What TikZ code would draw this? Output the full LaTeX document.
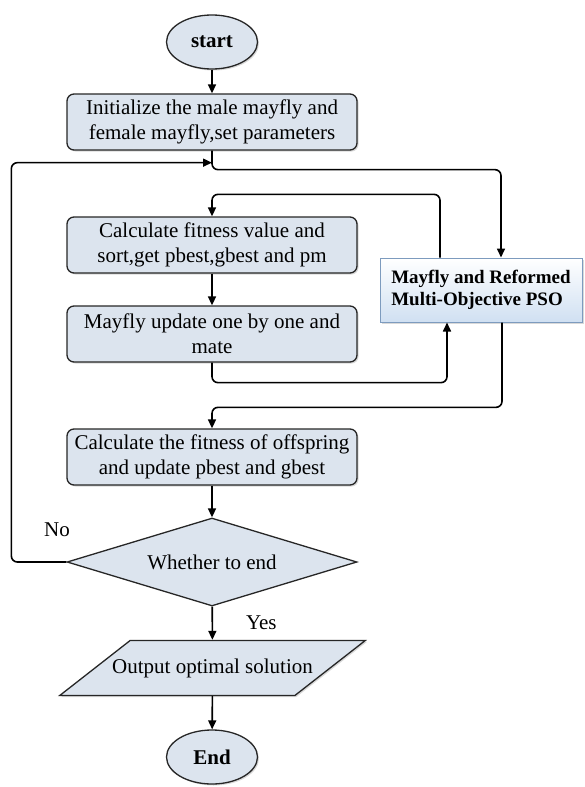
\documentclass[tikz,border=0pt]{standalone}
\usepackage{fontspec}
\setmainfont{Liberation Serif}
\usetikzlibrary{arrows.meta, positioning, calc, shapes.geometric, shadows}
\definecolor{boxfill}{RGB}{220,228,238}
\definecolor{algoline}{RGB}{125,155,190}
\definecolor{algofill}{RGB}{208,224,242}

\begin{document}
\begin{tikzpicture}[x=1pt, y=-1pt,
    proc/.style={draw=black!85, fill=boxfill, rounded corners=7pt, line width=1.3pt,
                 minimum width=290pt, minimum height=56pt, inner sep=3pt, align=center,
                 font=\fontsize{21}{25}\selectfont,
                 drop shadow={opacity=0.3, shadow xshift=1.5pt, shadow yshift=-1.5pt}},
    term/.style={ellipse, draw=black!85, fill=boxfill, line width=1.3pt,
                 minimum width=91pt, minimum height=54pt, inner sep=0pt,
                 font=\bfseries\fontsize{21}{25}\selectfont,
                 drop shadow={opacity=0.3, shadow xshift=1.5pt, shadow yshift=-1.5pt}},
    dec/.style={diamond, draw=black!85, fill=boxfill, line width=1.3pt, shape aspect=3.3,
                minimum width=290pt, minimum height=88pt, inner sep=0pt,
                font=\fontsize{21}{25}\selectfont},
    io/.style={trapezium, trapezium left angle=38, trapezium right angle=142,
               draw=black!85, fill=boxfill, line width=1.3pt,
               inner xsep=-18pt, inner ysep=18pt,
               font=\fontsize{21}{25}\selectfont,
               drop shadow={opacity=0.3, shadow xshift=1.5pt, shadow yshift=-1.5pt}},
    algo/.style={draw=algoline, line width=1pt, top color=white, bottom color=algofill,
                 minimum width=202pt, minimum height=64pt, inner sep=4pt, align=left,
                 font=\bfseries\fontsize{19}{22}\selectfont,
                 drop shadow={opacity=0.3, shadow xshift=2pt, shadow yshift=-2pt}},
    lbl/.style={font=\fontsize{21}{25}\selectfont, inner sep=2pt},
    flow/.style={->, line width=1.6pt, rounded corners=6pt},
    >={Triangle[length=9pt, width=8pt]},
]
\useasboundingbox (0,0) rectangle (584,787);
% --- main column ------------------------------------------------------------
\node[term] (start) at (212,42)  {start};
\node[proc] (init)  at (212,122) {Initialize the male mayfly and\\female mayfly,set parameters};
\node[proc] (fit)   at (212,245) {Calculate fitness value and\\sort,get pbest,gbest and pm};
\node[proc] (upd)   at (212,334) {Mayfly update one by one and\\mate};
\node[proc] (off)   at (212,457) {Calculate the fitness of offspring\\and update pbest and gbest};
\node[dec]  (dec)   at (212,562) {Whether to end};
\node[io]   (res)   at (212.5,668) {Output optimal solution};
\node[term] (stop)  at (212,757) {End};
% --- side box ---------------------------------------------------------------
\node[algo] (algo)  at (481,290) {Mayfly and Reformed\\Multi-Objective PSO};
\node[lbl]  (no)    at (57,530)  {No};
\coordinate (join) at ($(init.south)+(0,12)$);
% --- connectors -------------------------------------------------------------
\draw[flow] (start) -- (init);
\draw[flow] (init.south) -- ++(0,19) -| ($(algo.north)+(20,0)$);
\draw[flow] ($(algo.north)+(-41,0)$) |- ($(fit.north)+(0,-22)$) -- (fit.north);
\draw[flow] (fit) -- (upd);
\draw[flow] (upd.south) -- ++(0,20) -| ($(algo.south)+(-34,0)$);
\draw[flow] ($(algo.south)+(21,0)$) |- ($(off.north)+(0,-21)$) -- (off.north);
\draw[flow] (off) -- (dec);
\draw[flow] (dec.west) -- ++(-55,0) |- (join);
\draw[flow] (dec) -- node[lbl, right=31pt] (yes) {Yes} (res);
\draw[flow] (res) -- (stop);
\end{tikzpicture}
\end{document}
